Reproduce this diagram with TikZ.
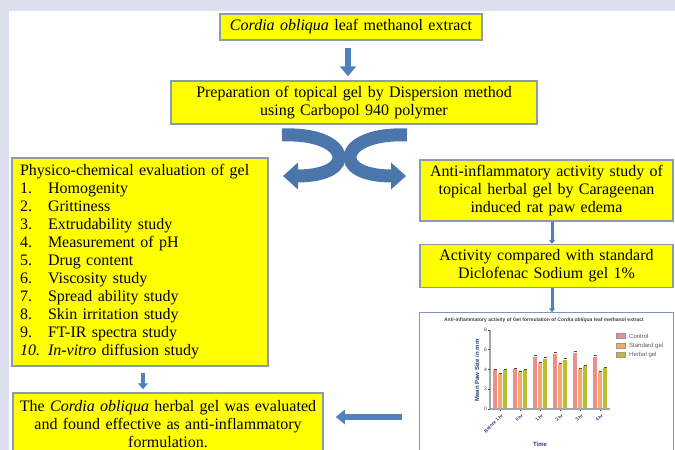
\documentclass[tikz,border=0pt]{standalone}
\usepackage{fontspec}
\setmainfont{Liberation Serif}
\newfontfamily\chartfont{Liberation Sans}
\usetikzlibrary{arrows.meta,positioning}
\definecolor{pagebg}{HTML}{DDE1EF}
\definecolor{boxfill}{HTML}{FFFF00}
\definecolor{boxline}{HTML}{8A9BB0}
\definecolor{arrowblue}{HTML}{4F81BD}
\definecolor{ribbonblue}{HTML}{4A76AC}
\definecolor{chartline}{HTML}{7F96B8}
\definecolor{ctrlbar}{HTML}{EC8F8F}
\definecolor{stdbar}{HTML}{F7A866}
\definecolor{herbbar}{HTML}{BDBD2C}
\definecolor{axisblue}{HTML}{2E3C7E}
\newcommand{\listnum}[1]{\makebox[28pt][l]{#1}}

\begin{document}
\begin{tikzpicture}[x=1pt,y=-1pt,
  stepbox/.style={draw=boxline, line width=1.5pt, fill=boxfill, inner sep=0pt,
    align=center, font=\fontsize{16}{18}\selectfont},
  listbox/.style={stepbox, align=left},
  ribbon/.style={draw=ribbonblue, line width=13pt, -{Triangle[width=26pt,length=15pt]}},
  bigarrow/.style={draw=arrowblue, line width=6pt, -{Triangle[width=14pt,length=9pt]}},
  smallarrow/.style={draw=arrowblue, line width=4pt, -{Triangle[width=10pt,length=6pt]}},
  linkbar/.style={draw=arrowblue, line width=3pt, -{Triangle[width=6pt,length=4pt]}},
  chartfont/.style={font=\chartfont\fontsize{5}{6}\selectfont},
  xtick/.style={chartfont, font=\chartfont\bfseries\fontsize{4.6}{5.5}\selectfont, text=axisblue,
    rotate=45, anchor=north east, inner sep=0.3pt},
  ytick/.style={chartfont, text=axisblue, anchor=east, inner sep=0.5pt},
  axislab/.style={font=\chartfont\bfseries\fontsize{6}{7}\selectfont, text=axisblue, inner sep=0pt},
  legtext/.style={font=\chartfont\fontsize{6}{7}\selectfont, text=black!65, anchor=west, inner sep=0pt},
  errbar/.style={draw=black!70, line width=0.8pt}]
\useasboundingbox (0,0) rectangle (675,450);
\clip (0,0) rectangle (675,450);
\fill[pagebg] (0,0) rectangle (675,450);
\fill[white] (9,11) rectangle (675,450);

% flow boxes
\node[stepbox, minimum width=262pt, minimum height=26pt, text width=250pt] (extract) at (351,27)
  {\textit{Cordia obliqua} leaf methanol extract};
\node[stepbox, minimum width=366pt, minimum height=43pt, text width=350pt] (prep) at (354,102.5)
  {Preparation of topical gel by Dispersion method\\ using Carbopol 940 polymer};
\node[listbox, minimum width=256pt, minimum height=208pt, text width=240pt] (physchem) at (140,262)
  {Physico-chemical evaluation of gel\\
   \listnum{1.}Homogenity\\
   \listnum{2.}Grittiness\\
   \listnum{3.}Extrudability study\\
   \listnum{4.}Measurement of pH\\
   \listnum{5.}Drug content\\
   \listnum{6.}Viscosity study\\
   \listnum{7.}Spread ability study\\
   \listnum{8.}Skin irritation study\\
   \listnum{9.}FT-IR spectra study\\
   \listnum{\textit{10.}}\textit{In-vitro} diffusion study};
\node[stepbox, minimum width=253pt, minimum height=61pt, text width=245pt] (antiinf) at (546.5,190.5)
  {Anti-inflammatory activity study of\\ topical herbal gel by Carageenan\\ induced rat paw edema};
\node[stepbox, minimum width=253pt, minimum height=43pt, text width=245pt, below=22pt of antiinf] (compare)
  {Activity compared with standard\\ Diclofenac Sodium gel 1\%};
\node[draw=chartline, line width=1.2pt, fill=white, minimum width=254pt, minimum height=160pt,
  inner sep=0pt, below=24pt of compare.south west, anchor=north west] (chart) {};
\node[stepbox, minimum width=310pt, minimum height=62pt, text width=300pt] (result) at (168,424)
  {The \textit{Cordia obliqua} herbal gel was evaluated\\ and found effective as anti-inflammatory\\ formulation.};

% arrows
\draw[bigarrow, line width=6pt, -{Triangle[width=16pt,length=10pt]}, shorten <=7pt, shorten >=4pt]
  ([xshift=-3pt]extract.south) -- ([xshift=-3pt]extract.south |- prep.north);
\draw[ribbon] (282,135) .. controls (350,132) and (360,176) .. (283,176);
\draw[ribbon] (407,135) .. controls (339,132) and (329,176) .. (406,176);
\draw[linkbar] ([xshift=5.5pt]antiinf.south) -- ([xshift=5.5pt]compare.north);
\draw[linkbar] ([xshift=5.5pt]compare.south) -- ([xshift=5.5pt]compare.south |- chart.north);
\draw[smallarrow, shorten <=6pt, shorten >=3pt]
  ([xshift=3pt]physchem.south) -- ([xshift=3pt]physchem.south |- result.north);
\coordinate (gap) at (0,417);
\draw[bigarrow, shorten <=17pt, shorten >=12pt] (chart.west |- gap) -- (result.east |- gap);

% bar chart
\node[font=\chartfont\bfseries\fontsize{5}{6}\selectfont, text=black!75, inner sep=0pt] (ctitle) at (544,320)
  {Anti-inflammatory activity of Gel formulation of \textit{Cordia obliqua} leaf methanol extract};
\begin{scope}[xshift=490pt, yshift=-409pt, y=9.9pt]
  \foreach \g/\c/\s/\h/\lab in {0/3.9/3.5/3.9/Before 1 hr, 1/4.0/3.7/3.9/0 hr, 2/5.3/4.6/5.1/1 hr,
    3/5.6/4.5/5.0/2 hr, 4/5.7/4.0/4.3/3 hr, 5/5.3/3.7/4.1/4 hr}
  {
    \pgfmathsetmacro\cx{10+20*\g}
    \fill[ctrlbar] (\cx-7.25,0) rectangle (\cx-2.75,\c);
    \fill[stdbar] (\cx-2.25,0) rectangle (\cx+2.25,\s);
    \fill[herbbar] (\cx+2.75,0) rectangle (\cx+7.25,\h);
    \draw[errbar] (\cx-6.5,\c+0.08) -- (\cx-3.5,\c+0.08);
    \draw[errbar] (\cx-1.5,\s+0.08) -- (\cx+1.5,\s+0.08);
    \draw[errbar] (\cx+3.5,\h+0.08) -- (\cx+6.5,\h+0.08);
    \draw[black!70, line width=0.5pt] (\cx,0) -- (\cx,-0.2);
    \node[xtick] (xt\g) at (\cx+1,-0.4) {\lab};
  }
  \draw[black!35, line width=1.3pt] (0,0) -- (0,8);
  \draw[black!35, line width=1.3pt] (0,0) -- (120,0);
  \foreach \v in {0,2,4,6,8}
  {
    \draw[black!70, line width=0.5pt] (-2,\v) -- (0,\v);
    \node[ytick] (yt\v) at (-2.5,\v) {\v};
  }
  \node[axislab, rotate=90] (ylab) at (-13,3.9) {Mean Paw Size in mm};
  \node[axislab] (xlab) at (50,-3.6) {Time};
\end{scope}
\foreach \col/\lab [count=\i] in {ctrlbar/Control, stdbar/Standard gel, herbbar/Herbal gel}
{
  \fill[\col, draw=black!40, line width=0.3pt] (616,324+9.5*\i) rectangle ++(9,5);
  \node[legtext] (leg\i) at (629,326.5+9.5*\i) {\lab};
}
\end{tikzpicture}
\end{document}
